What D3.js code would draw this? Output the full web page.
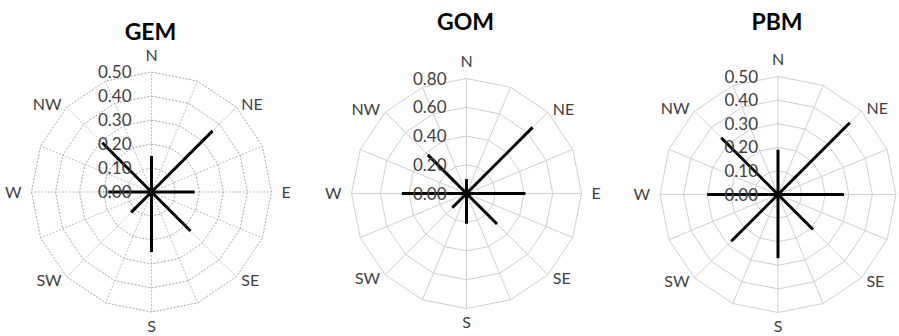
<!DOCTYPE html>
<html>
<head>
<meta charset="utf-8">
<script src="https://cdn.jsdelivr.net/npm/d3@7"></script>
<style>
  html, body { margin: 0; padding: 0; background: #fff; }
  svg { display: block; }
  text { font-family: Lato, "Open Sans", sans-serif; }
</style>
</head>
<body>
<svg id="chart" width="899" height="336"></svg>
<script>
// Compass directions, clockwise from north
const directions = ["N", "NE", "E", "SE", "S", "SW", "W", "NW"];

// Frequency per direction for each variable
const gemValues = [0.15, 0.36, 0.18, 0.23, 0.25, 0.12, 0.18, 0.29];
const gomValues = [0.10, 0.65, 0.41, 0.30, 0.21, 0.14, 0.45, 0.38];
const pbmValues = [0.19, 0.43, 0.28, 0.21, 0.27, 0.28, 0.30, 0.34];

// Radial tick labels
const gemTicks = ["0.00", "0.10", "0.20", "0.30", "0.40", "0.50"];
const gomTicks = ["0.00", "0.20", "0.40", "0.60", "0.80"];
const pbmTicks = ["0.00", "0.10", "0.20", "0.30", "0.40", "0.50"];

const titles = ["GEM", "GOM", "PBM"];

// Panel layout
const panels = [
  { title: titles[0], values: gemValues, ticks: gemTicks, cx: 151.5, cy: 192, r: 120, titleY: 40, dashed: true },
  { title: titles[1], values: gomValues, ticks: gomTicks, cx: 466.5, cy: 193.5, r: 115, titleY: 30, dashed: false },
  { title: titles[2], values: pbmValues, ticks: pbmTicks, cx: 778, cy: 194.5, r: 118, titleY: 30, dashed: false }
];

const spokeCount = 16;
const svg = d3.select("#chart");

panels.forEach(p => {
  const tickVals = p.ticks.map(Number);
  const maxVal = d3.max(tickVals);
  const rScale = d3.scaleLinear().domain([0, maxVal]).range([0, p.r]);
  const dirAngle = d3.scaleLinear().domain([0, directions.length]).range([0, 2 * Math.PI]);
  const spokeAngle = d3.scaleLinear().domain([0, spokeCount]).range([0, 2 * Math.PI]);
  const pt = (a, rad) => [Math.sin(a) * rad, -Math.cos(a) * rad];

  const g = svg.append("g").attr("transform", `translate(${p.cx},${p.cy})`);
  const gridColor = p.dashed ? "#a6a6a6" : "#cfcfcf";
  const dash = p.dashed ? "2,1.5" : null;

  // spokes
  g.selectAll("line.spoke")
    .data(d3.range(spokeCount))
    .join("line")
    .attr("class", "spoke")
    .attr("x1", 0).attr("y1", 0)
    .attr("x2", i => pt(spokeAngle(i), p.r)[0])
    .attr("y2", i => pt(spokeAngle(i), p.r)[1])
    .attr("stroke", p.dashed ? "#bdbdbd" : gridColor)
    .attr("stroke-width", 1)
    .attr("stroke-dasharray", dash);

  // rings (16-sided polygons)
  const ringLine = d3.line();
  g.selectAll("path.ring")
    .data(tickVals.filter(v => v > 0))
    .join("path")
    .attr("class", "ring")
    .attr("d", v => ringLine(d3.range(spokeCount).map(i => pt(spokeAngle(i), rScale(v)))) + "Z")
    .attr("fill", "none")
    .attr("stroke", gridColor)
    .attr("stroke-width", 1)
    .attr("stroke-dasharray", dash);

  // value lines
  g.selectAll("line.val")
    .data(p.values)
    .join("line")
    .attr("class", "val")
    .attr("x1", 0).attr("y1", 0)
    .attr("x2", (v, i) => pt(dirAngle(i), rScale(v))[0])
    .attr("y2", (v, i) => pt(dirAngle(i), rScale(v))[1])
    .attr("stroke", "#000")
    .attr("stroke-width", 3)
    .attr("stroke-linecap", "butt");

  // radial tick labels
  g.selectAll("text.tick")
    .data(p.ticks)
    .join("text")
    .attr("class", "tick")
    .attr("x", -20)
    .attr("y", d => -rScale(+d))
    .attr("dy", "0.36em")
    .attr("text-anchor", "end")
    .attr("font-size", 17)
    .attr("fill", "#404040")
    .text(d => d);

  // direction labels
  g.selectAll("text.dir")
    .data(directions)
    .join("text")
    .attr("class", "dir")
    .each(function(d, i) {
      const a = dirAngle(i);
      const [vx, vy] = pt(a, p.r);
      const sx = Math.abs(vx) < 1 ? 0 : Math.sign(vx);
      const sy = Math.abs(vy) < 1 ? 0 : Math.sign(vy);
      let x, y, anchor;
      if (sx === 0) {
        x = 0; y = vy + sy * (sy > 0 ? 14 : 17); anchor = "middle";
      } else if (sy === 0) {
        x = vx + sx * 10; y = 0; anchor = sx > 0 ? "start" : "end";
      } else {
        x = vx + sx * 5; y = vy + sy * 3; anchor = sx > 0 ? "start" : "end";
      }
      d3.select(this)
        .attr("x", x).attr("y", y)
        .attr("dy", "0.36em")
        .attr("text-anchor", anchor);
    })
    .attr("font-size", 16)
    .attr("fill", "#404040")
    .text(d => d);

  // title
  svg.append("text")
    .attr("x", p.cx - 1)
    .attr("y", p.titleY)
    .attr("text-anchor", "middle")
    .attr("font-size", 23)
    .attr("font-weight", "bold")
    .attr("fill", "#000")
    .text(p.title);
});
</script>
</body>
</html>
